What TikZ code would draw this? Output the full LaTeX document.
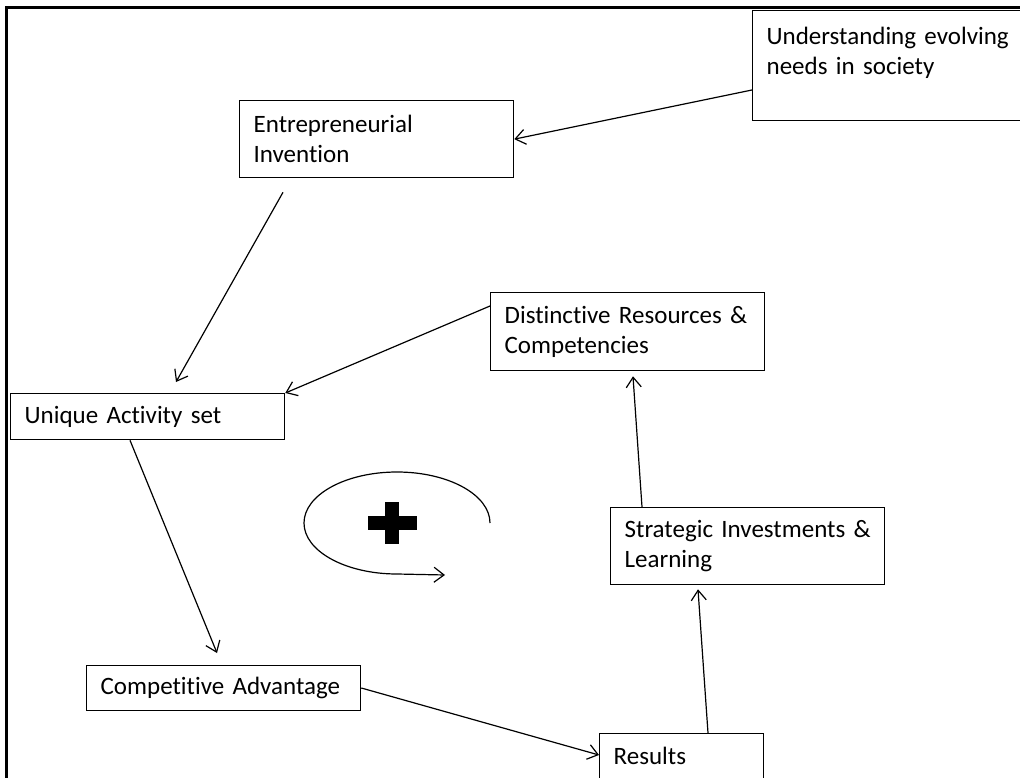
\documentclass[tikz,border=0pt]{standalone}
\usepackage{fontspec}
\setmainfont{Carlito}[Ligatures=CommonOff]
\usetikzlibrary{arrows.meta,calc}

\begin{document}
\begin{tikzpicture}[
  x=1pt, y=-1pt,
  font=\fontsize{25}{30}\selectfont,
  bx/.style={draw, line width=1.3pt, anchor=north west, align=left,
    inner xsep=14pt, inner ysep=4pt, text width=246pt, minimum width=274pt},
  arr/.style={-{Straight Barb[length=10pt,width=15pt]}, line width=1.2pt},
  loop/.style={line width=1.2pt}
]
\clip (0,0) rectangle (1020,778);
\draw[line width=3pt] (6.5,900) rectangle (1100,7.5);
\node[bx, minimum height=110pt, minimum width=290pt, text width=262pt] (und) at (752,10) {Understanding evolving\\needs in society\\~};
\node[bx, minimum height=77pt] (ent) at (239,100) {Entrepreneurial\\Invention};
\node[bx, minimum height=78pt] (dis) at (490,292) {Distinctive Resources \&\\Competencies};
\node[bx, minimum height=46pt] (uni) at (10,393) {Unique Activity set};
\node[bx, minimum height=77pt] (str) at (610,507) {Strategic Investments \&\\Learning};
\node[bx, minimum height=45pt] (com) at (86,665) {Competitive Advantage};
\node[bx, minimum height=45pt, minimum width=164pt, text width=136pt] (res) at (599,733) {Results};
\draw[arr] ($(und.north west)+(0,80)$) -- (ent.east);
\draw[arr] ($(ent.south west)+(44,14)$) -- ($(uni.north west)+(166,-11)$);
\draw[arr] ($(dis.north west)+(0,14)$) -- (uni.north east);
\draw[arr] ($(uni.south west)+(120,0)$) -- ($(com.north west)+(131,-12)$);
\draw[arr] ($(com.north east)+(0,23)$) -- ($(res.north west)+(0,22)$);
\draw[arr] ($(res.north west)+(109,0)$) -- ($(str.south west)+(88,4)$);
\draw[arr] ($(str.north west)+(32,0)$) -- ($(dis.south west)+(143,5)$);
\draw[loop, -{Straight Barb[length=10pt,width=15pt]}] (490,523)
  arc[start angle=0, end angle=270, x radius=93pt, y radius=51pt] -- (445,575);
\fill (368,516) rectangle (417,530);
\fill (385,502) rectangle (399,544);
\end{tikzpicture}
\end{document}
